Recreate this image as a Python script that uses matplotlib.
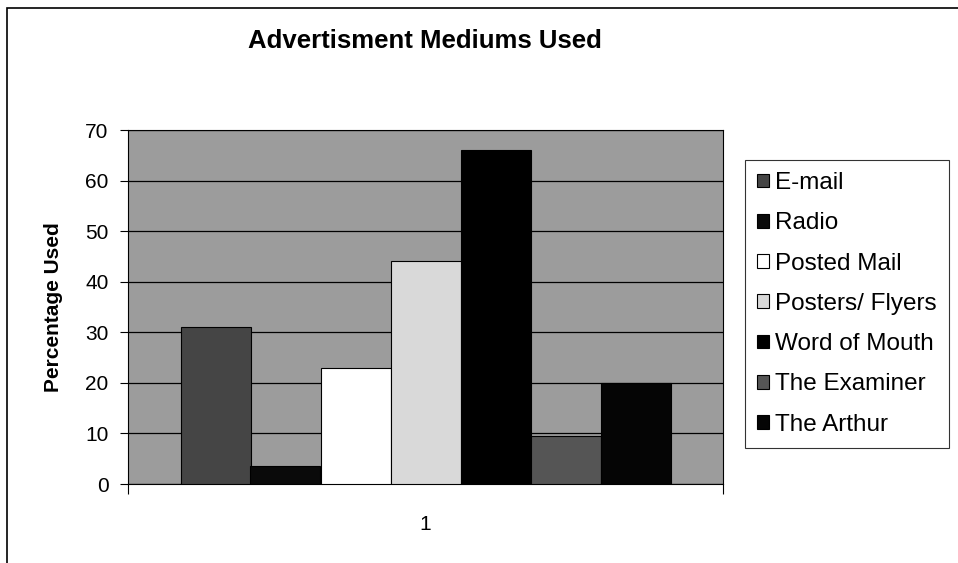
import matplotlib.pyplot as plt
from matplotlib.patches import Rectangle

plt.rcParams['font.family'] = ['Liberation Sans', 'DejaVu Sans']

# data
mediums = ["E-mail", "Radio", "Posted Mail", "Posters/ Flyers",
           "Word of Mouth", "The Examiner", "The Arthur"]
percent_used = [31, 3.5, 23, 44, 66, 9.5, 20]
category = [1]
y_ticks = [0, 10, 20, 30, 40, 50, 60, 70]

# grey shades standing in for the dithered fills of the original
fills = ["#454545", "#0a0a0a", "#ffffff", "#d9d9d9", "#000000", "#555555", "#050505"]

fig = plt.figure(figsize=(9.58, 5.63), dpi=100)
ax = fig.add_axes([128 / 958, 1 - 484 / 563, (723 - 128) / 958, (484 - 130) / 563])
ax.set_facecolor("#9c9c9c")

n = len(mediums)
width = 1 / (n + 1.5)
for i, (name, val, col) in enumerate(zip(mediums, percent_used, fills)):
    x = category[0] + (i - (n - 1) / 2) * width
    ax.bar(x, val, width=width, color=col, edgecolor="black", linewidth=0.8,
           label=name, zorder=3)

ax.set_xlim(0.5, 1.5)
ax.set_ylim(0, 70)
ax.set_yticks(y_ticks)
ax.yaxis.grid(True, color="black", linewidth=0.9, zorder=1)
ax.set_axisbelow(True)

ax.set_xticks(category)
ax.set_xticklabels([str(c) for c in category])
ax.set_xticks([0.5, 1.5], minor=True)
ax.tick_params(axis="x", which="major", length=0, pad=22, labelsize=15)
ax.tick_params(axis="x", which="minor", length=7, direction="out", width=0.8)
ax.tick_params(axis="y", length=6, direction="out", width=0.8, labelsize=15, pad=8)

for sp in ax.spines.values():
    sp.set_linewidth(0.8)
    sp.set_color("black")

ax.set_ylabel("Percentage Used", fontsize=15, fontweight="bold", labelpad=16)
fig.text(425 / 958, 1 - 41 / 563, "Advertisment Mediums Used", ha="center",
         va="center", fontsize=18.5, fontweight="bold")

leg = ax.legend(loc="upper left", bbox_to_anchor=(745 / 958, 1 - 160 / 563),
                bbox_transform=fig.transFigure, fontsize=17.5, frameon=True,
                fancybox=False, edgecolor="black", handlelength=0.5,
                handleheight=0.5, handletextpad=0.25, labelspacing=0.75,
                borderpad=0.5, borderaxespad=0)
leg.get_frame().set_linewidth(0.8)

# outer chart border
fig.patches.append(Rectangle((7 / 958, -0.1), 1.2, 1 - 8 / 563 + 0.1,
                             transform=fig.transFigure, fill=False,
                             edgecolor="black", linewidth=1.2))

fig.savefig("out.png", dpi=100)
